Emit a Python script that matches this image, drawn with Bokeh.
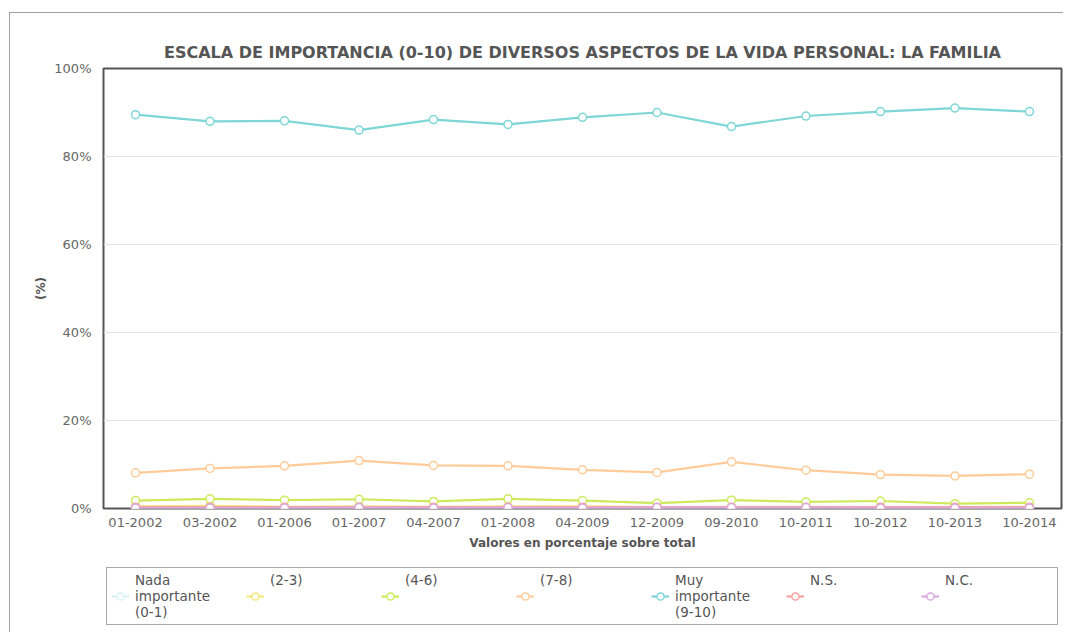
from bokeh.plotting import figure
from bokeh.layouts import column
from bokeh.models import Range1d, FixedTicker, PrintfTickFormatter, Legend, LegendItem
from bokeh.embed import file_html
from bokeh.resources import INLINE

dates = ["01-2002", "03-2002", "01-2006", "01-2007", "04-2007", "01-2008", "04-2009",
         "12-2009", "09-2010", "10-2011", "10-2012", "10-2013", "10-2014"]

nada_0_1 = [0.2, 0.2, 0.2, 0.2, 0.2, 0.2, 0.2, 0.2, 0.2, 0.2, 0.2, 0.2, 0.2]
rango_2_3 = [0.5, 0.6, 0.4, 0.5, 0.4, 0.5, 0.5, 0.3, 0.4, 0.4, 0.3, 0.3, 0.4]
rango_4_6 = [1.8, 2.2, 1.9, 2.1, 1.6, 2.2, 1.8, 1.2, 1.9, 1.5, 1.7, 1.1, 1.3]
rango_7_8 = [8.1, 9.1, 9.7, 10.9, 9.8, 9.7, 8.8, 8.2, 10.6, 8.7, 7.7, 7.4, 7.8]
muy_9_10 = [89.5, 88.0, 88.1, 86.0, 88.4, 87.3, 88.9, 90.0, 86.8, 89.2, 90.2, 91.0, 90.2]
ns = [0.3, 0.3, 0.3, 0.3, 0.3, 0.3, 0.3, 0.3, 0.3, 0.3, 0.3, 0.3, 0.3]
nc = [0.1, 0.1, 0.1, 0.2, 0.1, 0.2, 0.1, 0.2, 0.2, 0.2, 0.1, 0.1, 0.1]

series_names = ["Nada\nimportante\n(0-1)", "(2-3)\n \n ", "(4-6)\n \n ", "(7-8)\n \n ",
                "Muy\nimportante\n(9-10)", "N.S.\n \n ", "N.C.\n \n "]
series_values = [nada_0_1, rango_2_3, rango_4_6, rango_7_8, muy_9_10, ns, nc]
series_colors = ["#d8f4f4", "#f5e77a", "#cdea5c", "#ffcc99", "#7fd6d6", "#f7a0a0", "#dba8e0"]

y_ticks = [0, 20, 40, 60, 80, 100]

FONT = "DejaVu Sans"
xs = list(range(len(dates)))

p = figure(width=1053, height=549, output_backend="svg", toolbar_location=None,
           x_range=Range1d(-0.43, len(dates) - 1 + 0.43), y_range=Range1d(0, 100),
           min_border_left=93, min_border_right=2, min_border_top=55, min_border_bottom=54)

p.title.text = "ESCALA DE IMPORTANCIA (0-10) DE DIVERSOS ASPECTOS DE LA VIDA PERSONAL: LA FAMILIA"
p.title.align = "center"
p.title.text_font = FONT
p.title.text_font_size = "16px"
p.title.text_font_style = "bold"
p.title.text_color = "#555555"
p.title.standoff = 14

p.outline_line_color = "#555555"
p.outline_line_width = 2

p.xgrid.grid_line_color = None
p.ygrid.grid_line_color = "#e6e6e6"
p.ygrid.ticker = FixedTicker(ticks=y_ticks)

p.xaxis.ticker = FixedTicker(ticks=xs)
p.xaxis.major_label_overrides = {i: d for i, d in enumerate(dates)}
p.yaxis.ticker = FixedTicker(ticks=y_ticks)
p.yaxis.formatter = PrintfTickFormatter(format="%d%%")

for ax in (p.xaxis[0], p.yaxis[0]):
    ax.axis_line_color = None
    ax.major_tick_line_color = None
    ax.minor_tick_line_color = None
    ax.major_label_text_font = FONT
    ax.major_label_text_font_size = "13px"
    ax.major_label_text_color = "#666666"
    ax.axis_label_text_font = FONT
    ax.axis_label_text_font_size = "12px"
    ax.axis_label_text_font_style = "bold"
    ax.axis_label_text_color = "#555555"
p.xaxis.major_label_standoff = 3
p.yaxis.major_label_standoff = 6
p.xaxis.axis_label = "Valores en porcentaje sobre total"
p.xaxis.axis_label_standoff = 6
p.yaxis.axis_label = "(%)"
p.yaxis.axis_label_standoff = 3

# legend panel below the chart (same series drawn out of view, only the legend shows)
pl = figure(width=1053, height=70, output_backend="svg", toolbar_location=None,
            x_range=Range1d(-100, -99), y_range=Range1d(-100, -99),
            min_border_left=0, min_border_right=0, min_border_top=0, min_border_bottom=0)
pl.axis.visible = False
pl.grid.grid_line_color = None
pl.outline_line_color = None

items = []
for name, vals, col in zip(series_names, series_values, series_colors):
    p.line(xs, vals, line_color=col, line_width=2.2)
    p.scatter(xs, vals, size=8, fill_color="white", line_color=col, line_width=1.5)
    l1 = pl.line(xs, vals, line_color=col, line_width=2.2)
    l2 = pl.scatter(xs, vals, size=8, fill_color="white", line_color=col, line_width=1.5)
    items.append(LegendItem(label=name, renderers=[l1, l2]))

legend = Legend(items=items, orientation="horizontal", location=(3, 7))
legend.label_text_font = FONT
legend.label_text_font_size = "13.5px"
legend.label_text_color = "#555555"
legend.label_width = 108
legend.glyph_width = 18
legend.label_standoff = 6
legend.spacing = 3
legend.padding = 4
legend.margin = 0
legend.border_line_color = "#555555"
legend.border_line_width = 1
legend.background_fill_color = "white"
legend.background_fill_alpha = 1
legend.click_policy = "none"
pl.add_layout(legend, "center")

layout = column(p, pl, spacing=0)
layout.styles = {"margin-top": "12px", "margin-left": "9px",
                 "border-top": "1px solid #a0a0a0", "border-left": "1px solid #a0a0a0"}
open("out.html", "w").write(file_html(layout, INLINE))
